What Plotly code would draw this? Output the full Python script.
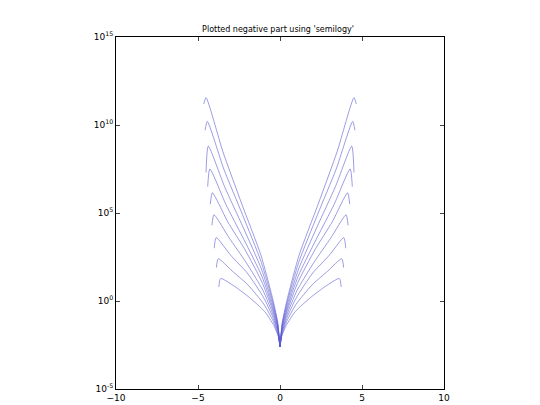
import numpy as np
import plotly.graph_objects as go

# fraction of each curve's reach
fracs = [0, 0.03, 0.1, 0.25, 0.5, 0.75, 0.97, 1.0]
# outer x reach per curve
reach = [3.73, 3.88, 4.01, 4.15, 4.25, 4.41, 4.51, 4.57, 4.65]
# log10(y) at each fraction, per curve
logy = [
    [-2.6, -2.0, -1.4, -0.6, 0.2, 0.85, 1.28, 0.8],
    [-2.6, -1.9, -1.2, -0.2, 0.9, 1.7, 2.4, 1.9],
    [-2.6, -1.8, -1.0, 0.2, 1.6, 2.6, 3.6, 3.0],
    [-2.6, -1.7, -0.8, 0.6, 2.2, 3.6, 4.9, 4.3],
    [-2.6, -1.6, -0.6, 1.0, 2.9, 4.5, 6.15, 5.5],
    [-2.6, -1.5, -0.4, 1.4, 3.5, 5.5, 7.5, 6.5],
    [-2.6, -1.4, -0.2, 1.8, 4.2, 6.5, 8.8, 7.3],
    [-2.6, -1.3, 0.0, 2.2, 4.9, 7.5, 10.2, 9.7],
    [-2.6, -1.2, 0.2, 2.6, 5.5, 8.5, 11.55, 11.2],
]
ytick_exp = [-5, 0, 5, 10, 15]
xticks = [-10, -5, 0, 5, 10]

fig = go.Figure()
for X, ly in zip(reach, logy):
    xs = [f * X for f in fracs]
    ys = [10 ** v for v in ly]
    for sgn in (-1, 1):
        fig.add_trace(go.Scatter(
            x=[sgn * v for v in xs], y=ys, mode="lines",
            line=dict(color="rgba(90,90,210,0.75)", width=0.8, shape="spline", smoothing=0.6),
            showlegend=False, hoverinfo="skip"))

axis_common = dict(showgrid=False, zeroline=False, showline=True, linecolor="black",
                   linewidth=1, mirror="ticks", ticks="inside", ticklen=4, automargin=False,
                   tickfont=dict(family="DejaVu Sans", size=9, color="black"))
fig.update_layout(
    width=540, height=405, paper_bgcolor="white", plot_bgcolor="white",
    margin=dict(l=108, r=104, t=29, b=24, autoexpand=False),
    title=dict(text="Plotted negative part using 'semilogy'", x=0.5, xanchor="center",
               y=0.955, font=dict(family="DejaVu Sans", size=8, color="black")),
    xaxis=dict(range=[-10, 10], tickvals=xticks, **axis_common),
    yaxis=dict(type="log", range=[-5, 15], tickvals=[10 ** e for e in ytick_exp],
               ticktext=[f"10<sup>{e}</sup>" for e in ytick_exp], **axis_common),
)
fig.write_html("out.html")
